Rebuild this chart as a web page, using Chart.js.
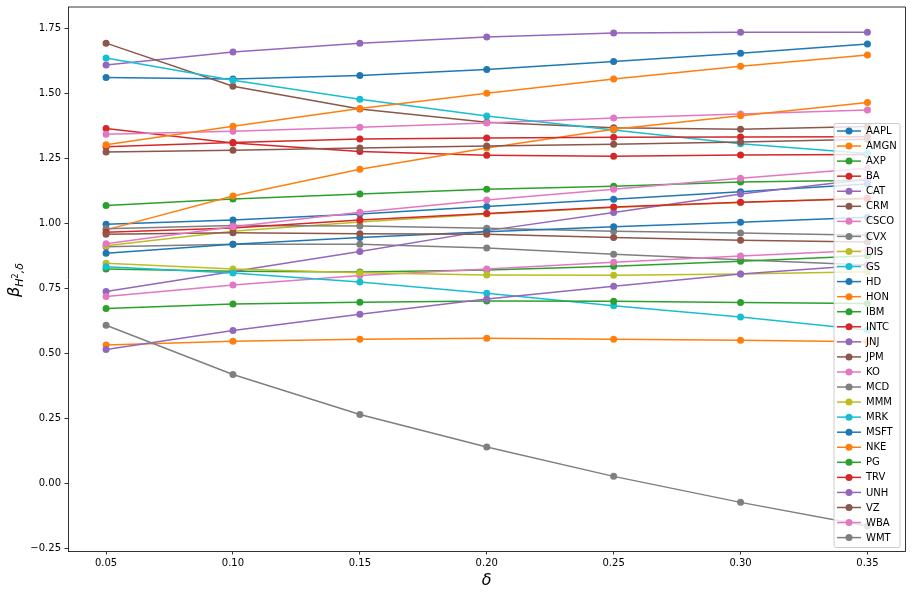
<!DOCTYPE html>
<html lang="en">
<head>
<meta charset="UTF-8">
<title>Beta by delta</title>
<script src="https://cdn.jsdelivr.net/npm/chart.js"></script>
<style>
  body { margin: 0; background: #fff; }
  canvas { display: block; }
</style>
</head>
<body>
<canvas id="betaChart" width="912" height="595"></canvas>
<script>
// x values (delta) and tick labels
const deltas = [0.05, 0.10, 0.15, 0.20, 0.25, 0.30, 0.35];
const yTicks = [-0.25, 0.00, 0.25, 0.50, 0.75, 1.00, 1.25, 1.50, 1.75];

const tickers = ["AAPL", "AMGN", "AXP", "BA", "CAT", "CRM", "CSCO", "CVX", "DIS", "GS",
                 "HD", "HON", "IBM", "INTC", "JNJ", "JPM", "KO", "MCD", "MMM", "MRK",
                 "MSFT", "NKE", "PG", "TRV", "UNH", "VZ", "WBA", "WMT"];

// beta values, one per delta
const AAPL = [1.561, 1.555, 1.569, 1.592, 1.622, 1.654, 1.690];
const AMGN = [0.532, 0.547, 0.554, 0.558, 0.554, 0.550, 0.545];
const AXP  = [1.069, 1.094, 1.113, 1.131, 1.143, 1.159, 1.166];
const BA   = [1.365, 1.309, 1.276, 1.262, 1.258, 1.263, 1.265];
const CAT  = [1.609, 1.659, 1.693, 1.717, 1.732, 1.735, 1.735];
const CRM  = [1.693, 1.527, 1.440, 1.389, 1.368, 1.362, 1.372];
const CSCO = [1.343, 1.354, 1.370, 1.386, 1.405, 1.421, 1.436];
const CVX  = [0.910, 0.920, 0.920, 0.905, 0.881, 0.860, 0.840];
const DIS  = [0.914, 0.970, 1.005, 1.036, 1.061, 1.080, 1.097];
const GS   = [1.636, 1.550, 1.477, 1.413, 1.359, 1.306, 1.269];
const HD   = [0.997, 1.013, 1.036, 1.065, 1.093, 1.122, 1.151];
const HON  = [0.975, 1.105, 1.208, 1.290, 1.362, 1.414, 1.465];
const IBM  = [0.824, 0.816, 0.813, 0.821, 0.835, 0.854, 0.875];
const INTC = [1.295, 1.311, 1.324, 1.328, 1.331, 1.332, 1.333];
const JNJ  = [0.738, 0.815, 0.892, 0.972, 1.042, 1.113, 1.170];
const JPM  = [1.274, 1.281, 1.290, 1.297, 1.304, 1.313, 1.323];
const KO   = [0.719, 0.763, 0.799, 0.824, 0.850, 0.874, 0.897];
const MCD  = [0.979, 0.992, 0.990, 0.981, 0.970, 0.963, 0.954];
const MMM  = [0.847, 0.824, 0.810, 0.801, 0.800, 0.805, 0.814];
const MRK  = [0.833, 0.809, 0.774, 0.731, 0.683, 0.640, 0.590];
const MSFT = [0.885, 0.920, 0.946, 0.968, 0.987, 1.004, 1.023];
const NKE  = [1.302, 1.373, 1.442, 1.500, 1.555, 1.604, 1.647];
const PG   = [0.673, 0.690, 0.697, 0.701, 0.700, 0.696, 0.692];
const TRV  = [0.966, 0.982, 1.013, 1.038, 1.063, 1.081, 1.096];
const UNH  = [0.515, 0.588, 0.650, 0.709, 0.758, 0.805, 0.840];
const VZ   = [0.958, 0.964, 0.960, 0.958, 0.946, 0.935, 0.928];
const WBA  = [0.922, 0.987, 1.043, 1.090, 1.131, 1.173, 1.212];
const WMT  = [0.608, 0.419, 0.265, 0.140, 0.027, -0.073, -0.164];

const series = [AAPL, AMGN, AXP, BA, CAT, CRM, CSCO, CVX, DIS, GS,
                HD, HON, IBM, INTC, JNJ, JPM, KO, MCD, MMM, MRK,
                MSFT, NKE, PG, TRV, UNH, VZ, WBA, WMT];

// matplotlib tab10 cycle
const palette = ["#1f77b4", "#ff7f0e", "#2ca02c", "#d62728", "#9467bd",
                 "#8c564b", "#e377c2", "#7f7f7f", "#bcbd22", "#17becf"];

const FONT = "'DejaVu Sans', sans-serif";

function fmt(v) {
    return v.toFixed(2).replace("-", "\u2212");
}

// box round the plot, legend in the lower right, and axis titles
const extras = {
    id: "extras",
    afterDatasetsDraw(chart) {
        const ctx = chart.ctx;
        const a = chart.chartArea;
        ctx.save();
        ctx.strokeStyle = "#000";
        ctx.lineWidth = 0.8;
        ctx.beginPath();
        ctx.moveTo(a.left, a.top);
        ctx.lineTo(a.right, a.top);
        ctx.lineTo(a.right, a.bottom);
        ctx.stroke();

        // legend
        const bx = 834, by = 123.5, bw = 66, bh = 424;
        ctx.fillStyle = "rgba(255,255,255,0.8)";
        ctx.strokeStyle = "#cccccc";
        ctx.lineWidth = 1;
        ctx.beginPath();
        if (ctx.roundRect) ctx.roundRect(bx, by, bw, bh, 2);
        else ctx.rect(bx, by, bw, bh);
        ctx.fill();
        ctx.stroke();

        ctx.font = "10px " + FONT;
        ctx.textBaseline = "middle";
        ctx.textAlign = "left";
        tickers.forEach((name, i) => {
            const y = 131 + i * 15.06;
            const col = palette[i % palette.length];
            ctx.strokeStyle = col;
            ctx.lineWidth = 1.5;
            ctx.beginPath();
            ctx.moveTo(837, y);
            ctx.lineTo(861, y);
            ctx.stroke();
            ctx.fillStyle = col;
            ctx.beginPath();
            ctx.arc(849, y, 3.5, 0, Math.PI * 2);
            ctx.fill();
            ctx.fillStyle = "#000";
            ctx.fillText(name, 866, y + 0.5);
        });
        ctx.restore();
    },
    afterDraw(chart) {
        const ctx = chart.ctx;
        const a = chart.chartArea;
        ctx.save();
        ctx.fillStyle = "#000";

        // x title
        ctx.font = "italic 16px " + FONT;
        ctx.textAlign = "center";
        ctx.textBaseline = "middle";
        ctx.fillText("\u03b4", (a.left + a.right) / 2, 581);

        // y title: beta with subscript H^2,delta
        ctx.translate(19, (a.top + a.bottom) / 2 + 1);
        ctx.rotate(-Math.PI / 2);
        ctx.textAlign = "left";
        ctx.textBaseline = "alphabetic";
        const big = "italic 16px " + FONT;
        const sub = "italic 11px " + FONT;
        const sup = "8px " + FONT;
        ctx.font = big; const wB = ctx.measureText("\u03b2").width;
        ctx.font = sub; const wH = ctx.measureText("H").width;
        ctx.font = sup; const w2 = ctx.measureText("2").width;
        ctx.font = sub; const wR = ctx.measureText(",\u03b4").width;
        let x = -(wB + wH + w2 + wR) / 2;
        ctx.font = big; ctx.fillText("\u03b2", x, 0); x += wB;
        ctx.font = sub; ctx.fillText("H", x, 3.5); x += wH;
        ctx.font = sup; ctx.fillText("2", x, -1.5); x += w2;
        ctx.font = sub; ctx.fillText(",\u03b4", x, 3.5);
        ctx.restore();
    }
};

const datasets = tickers.map((name, i) => ({
    label: name,
    data: deltas.map((d, j) => ({ x: d, y: series[i][j] })),
    borderColor: palette[i % palette.length],
    backgroundColor: palette[i % palette.length],
    borderWidth: 1.5,
    pointRadius: 3.5,
    pointBorderWidth: 0,
    pointBackgroundColor: palette[i % palette.length],
    tension: 0,
    order: tickers.length - i
}));

new Chart(document.getElementById("betaChart"), {
    type: "line",
    data: { datasets },
    plugins: [extras],
    options: {
        responsive: false,
        animation: false,
        layout: { padding: { left: 0, top: 7, right: 6.5, bottom: 0 } },
        plugins: {
            legend: { display: false },
            tooltip: { enabled: false }
        },
        scales: {
            x: {
                type: "linear",
                min: 0.035,
                max: 0.365,
                afterFit: s => { s.height = 44; s.paddingLeft = 0; s.paddingRight = 0; },
                afterBuildTicks: s => { s.ticks = deltas.map(v => ({ value: v })); },
                ticks: {
                    callback: v => fmt(v),
                    font: { family: FONT, size: 10 },
                    color: "#000",
                    padding: 3,
                    maxRotation: 0
                },
                grid: { drawOnChartArea: false, drawTicks: true, tickLength: 3.5, color: "#000", lineWidth: 0.8 },
                border: { display: true, color: "#000", width: 0.8 }
            },
            y: {
                type: "linear",
                min: -0.26,
                max: 1.832,
                afterFit: s => { s.width = 68; s.paddingTop = 0; s.paddingBottom = 0; },
                afterBuildTicks: s => { s.ticks = yTicks.map(v => ({ value: v })); },
                ticks: {
                    callback: v => fmt(v),
                    font: { family: FONT, size: 10 },
                    color: "#000",
                    padding: 3.5
                },
                grid: { drawOnChartArea: false, drawTicks: true, tickLength: 3.5, color: "#000", lineWidth: 0.8 },
                border: { display: true, color: "#000", width: 0.8 }
            }
        }
    }
});
</script>
</body>
</html>
